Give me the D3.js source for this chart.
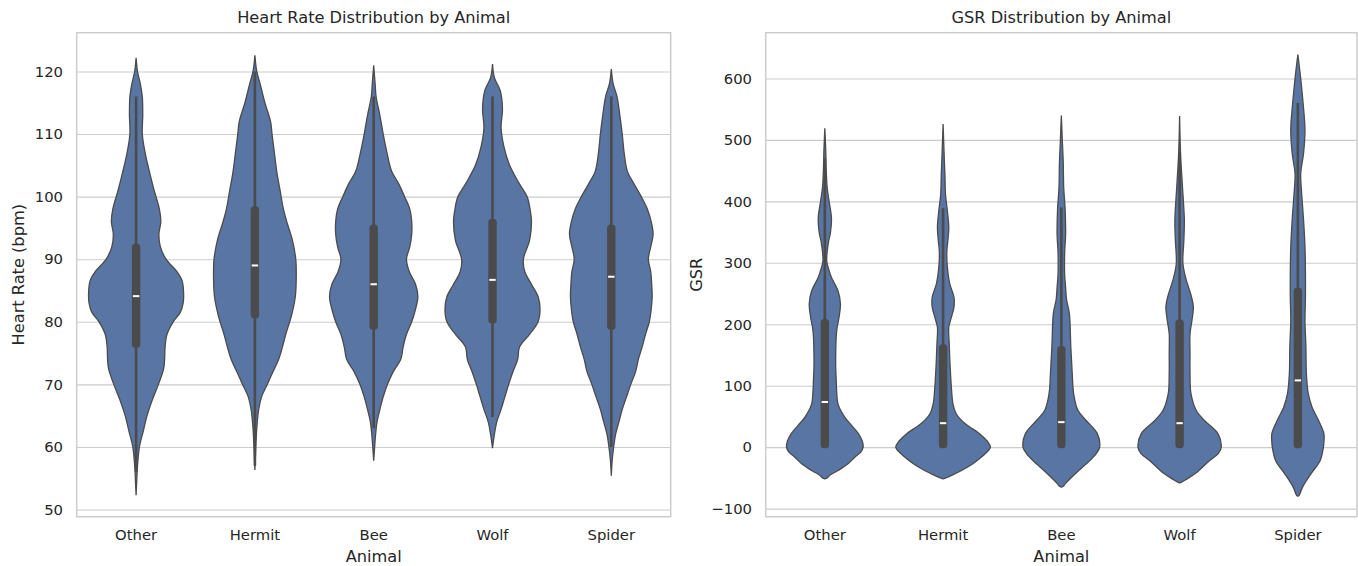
<!DOCTYPE html>
<html>
<head>
<meta charset="utf-8">
<script src="https://cdnjs.cloudflare.com/ajax/libs/d3/7.8.5/d3.min.js"></script>
<style>
    body { margin: 0; background: #fff; }
    svg text { font-family: 'DejaVu Sans', sans-serif; fill: #262626; }
</style>
</head>
<body>
<div id="root"></div>
<script>
    const animals = ['Other', 'Hermit', 'Bee', 'Wolf', 'Spider']
    const hrTicks = [50, 60, 70, 80, 90, 100, 110, 120]
    const gsrTicks = [-100, 0, 100, 200, 300, 400, 500, 600]

    // violin outlines: [value, relative density]
    const hrOther = [[122.2,0],[120,.03],[118,.09],[116,.13],[113,.14],[110,.13],[107,.19],[104,.28],[101,.38],[98,.49],[96,.52],[94,.48],[92,.51],[90,.63],[88,.86],[86.5,.97],[84.5,1],[83,.99],[81.5,.93],[80,.78],[78,.65],[76,.61],[74,.6],[72.5,.58],[70,.47],[67.5,.34],[65,.23],[62.5,.15],[60,.07],[57,.03],[54,.01],[52.3,0]]
    const hrHermit = [[122.6,0],[120,.04],[118,.11],[115,.21],[112,.33],[110,.36],[107,.41],[104,.46],[101,.53],[98,.6],[96,.67],[93,.79],[90,.86],[87,.87],[84,.85],[81,.77],[78,.65],[76,.58],[74,.5],[72,.38],[70,.26],[68,.14],[66,.08],[63,.04],[60,.02],[56.3,0]]
    const hrBee = [[121,0],[118,.03],[116,.05],[113,.13],[110,.2],[107,.28],[104,.38],[102,.53],[100,.65],[98,.76],[96,.8],[94,.8],[92,.76],[90,.69],[88,.75],[86,.88],[84,.93],[82,.88],[80,.8],[78,.69],[76,.62],[74,.57],[72,.41],[70,.29],[68,.2],[66,.13],[64,.07],[62,.04],[60,.02],[57.8,0]]
    const hrWolf = [[121.2,0],[119,.04],[117,.16],[114,.21],[111,.18],[108,.24],[105,.36],[102,.57],[100,.73],[98,.79],[96,.82],[93,.78],[90,.65],[88,.68],[86,.82],[84,.96],[82,1],[80,.96],[78,.78],[76,.57],[74,.53],[72,.43],[70,.34],[68,.26],[66,.18],[64,.09],[62,.04],[59.8,0]]
    const hrSpider = [[120.4,0],[118,.04],[116,.12],[113,.18],[110,.23],[107,.27],[104,.34],[102,.48],[100,.63],[98,.76],[96,.84],[94,.88],[92,.83],[90,.78],[88,.83],[86,.85],[84,.86],[82,.84],[80,.8],[78,.72],[76,.65],[74,.57],[72,.51],[70,.41],[68,.32],[66,.23],[64,.16],[62,.09],[60,.05],[58,.02],[55.4,0]]

    const hrQ1 = [76, 80.7, 78.9, 79.9, 78.9]
    const hrMedian = [84.1, 89, 86, 86.7, 87.2]
    const hrQ3 = [92.3, 98.3, 95.4, 96.3, 95.4]
    const hrWhiskLow = [56, 57, 63, 64.8, 60]
    const hrWhiskHigh = [116, 120, 116, 116, 116]

    const gsrOther = [[519,0],[481,.02],[450,.03],[422,.05],[400,.09],[373,.14],[350,.12],[335,.08],[318,.05],[303,.04],[290,.08],[276,.14],[254,.28],[233,.33],[211,.3],[195,.26],[179,.24],[150,.23],[130,.23],[110,.24],[92,.25],[70,.28],[49,.42],[35,.57],[22,.71],[10,.79],[0,.81],[-8,.76],[-16,.64],[-27,.49],[-38,.28],[-46,.1],[-50,.05],[-51.5,0]]
    const gsrHermit = [[526,0],[481,.02],[440,.04],[412,.05],[385,.09],[358,.12],[335,.1],[320,.08],[293,.09],[266,.14],[244,.23],[228,.23],[210,.17],[195,.12],[168,.13],[130,.15],[92,.18],[70,.21],[54,.28],[38,.47],[22,.77],[10,.93],[0,1],[-10,.9],[-20,.75],[-27,.63],[-38,.39],[-46,.18],[-50,.06],[-51.5,0]]
    const gsrBee = [[539.6,0],[500,.02],[463,.04],[422,.05],[387,.08],[346,.09],[317,.07],[281,.07],[260,.09],[240,.11],[217,.17],[163,.2],[120,.23],[87,.26],[60,.35],[43,.53],[22,.76],[0,.81],[-10,.74],[-22,.6],[-43,.3],[-59,.09],[-63.5,.04],[-65,0]]
    const gsrWolf = [[539,0],[478,.02],[424,.06],[370,.1],[337,.09],[299,.07],[275,.13],[260,.19],[245,.25],[228,.29],[206,.26],[184.5,.22],[152,.22],[119.5,.22],[87,.24],[60,.35],[43,.53],[22,.81],[0,.88],[-10,.82],[-22,.63],[-43,.33],[-53,.13],[-56.5,.05],[-58,0]]
    const gsrSpider = [[639,0],[600,.06],[560,.11],[516,.15],[478,.12],[445,.06],[413,.08],[370,.12],[326,.15],[282,.16],[244,.16],[206,.15],[163,.17],[119.5,.18],[87,.22],[65,.3],[43,.44],[22,.55],[8,.55],[0,.54],[-22,.47],[-43,.28],[-65,.1],[-78,.03],[-80,0]]

    const gsrQ1 = [0, 0, 0, 0, 0]
    const gsrMedian = [73.5, 39, 40.7, 39, 108.6]
    const gsrQ3 = [207, 166, 162.8, 206, 257.8]
    const gsrWhiskLow = [0, 0, 0, 0, 0]
    const gsrWhiskHigh = [470, 389, 390, 480, 560]

    const W = 1358, H = 566
    const plotTop = 32.7, plotBottom = 516.7
    const fillColor = '#5875a4', lineColor = '#4b4b4b', gridColor = '#cccccc'

    const svg = d3.select('#root').append('svg').attr('width', W).attr('height', H)

    function drawPanel(opt) {
        const g = svg.append('g')
        const x = d3.scaleBand().domain(animals).range([opt.left, opt.right])
        const y = d3.scaleLinear().domain(opt.domain).range([plotBottom, plotTop])
        const w = d3.scaleLinear().domain([0, 1]).range([0, x.bandwidth() * 0.4])

        // grid
        g.append('g')
            .attr('transform', `translate(${opt.left},0)`)
            .call(d3.axisLeft(y).tickValues(opt.ticks).tickSize(-(opt.right - opt.left)).tickFormat(''))
            .call(a => a.select('.domain').remove())
            .call(a => a.selectAll('line').attr('stroke', gridColor).attr('stroke-width', 1.1))

        opt.profiles.forEach((prof, i) => {
            const cx = x(animals[i]) + x.bandwidth() / 2
            const area = d3.area()
                .curve(d3.curveCatmullRom)
                .y(d => y(d[0]))
                .x0(d => cx - w(d[1]))
                .x1(d => cx + w(d[1]))
            g.append('path')
                .attr('d', area(prof))
                .attr('fill', fillColor)
                .attr('stroke', lineColor)
                .attr('stroke-width', 1.3)
            // whisker
            g.append('line')
                .attr('x1', cx).attr('x2', cx)
                .attr('y1', y(opt.whiskLow[i])).attr('y2', y(opt.whiskHigh[i]))
                .attr('stroke', lineColor).attr('stroke-width', 2.6)
            // box
            const bw = 8.4
            g.append('rect')
                .attr('x', cx - bw / 2).attr('width', bw)
                .attr('y', y(opt.q3[i]) - 1).attr('height', y(opt.q1[i]) - y(opt.q3[i]) + 2)
                .attr('rx', 3.5)
                .attr('fill', lineColor)
            // median
            g.append('line')
                .attr('x1', cx - 3.2).attr('x2', cx + 3.2)
                .attr('y1', y(opt.median[i])).attr('y2', y(opt.median[i]))
                .attr('stroke', '#ffffff').attr('stroke-width', 2)
        })

        // frame
        g.append('rect')
            .attr('x', opt.left).attr('y', plotTop)
            .attr('width', opt.right - opt.left).attr('height', plotBottom - plotTop)
            .attr('fill', 'none').attr('stroke', gridColor).attr('stroke-width', 1.5)

        // tick labels
        g.append('g')
            .attr('transform', `translate(${opt.left},0)`)
            .call(d3.axisLeft(y).tickValues(opt.ticks).tickSize(0).tickPadding(13.7))
            .call(a => a.select('.domain').remove())
            .call(a => a.selectAll('text').style('font-size', '14.8px').attr('fill', '#262626'))
        g.append('g')
            .attr('transform', `translate(0,${plotBottom})`)
            .call(d3.axisBottom(x).tickSize(0).tickPadding(12.5))
            .call(a => a.select('.domain').remove())
            .call(a => a.selectAll('text').style('font-size', '14.8px').attr('fill', '#262626'))

        const mid = (opt.left + opt.right) / 2
        g.append('text').attr('x', mid).attr('y', 23)
            .attr('text-anchor', 'middle').style('font-size', '16.2px').text(opt.title)
        g.append('text').attr('x', mid).attr('y', 562)
            .attr('text-anchor', 'middle').style('font-size', '16.2px').text('Animal')
        g.append('text')
            .attr('transform', `translate(${opt.ylabelX},${(plotTop + plotBottom) / 2}) rotate(-90)`)
            .attr('text-anchor', 'middle').style('font-size', '16.2px').text(opt.ylabel)
    }

    drawPanel({
        left: 76.7, right: 670.7, domain: [48.85, 126.2], ticks: hrTicks,
        profiles: [hrOther, hrHermit, hrBee, hrWolf, hrSpider],
        q1: hrQ1, median: hrMedian, q3: hrQ3, whiskLow: hrWhiskLow, whiskHigh: hrWhiskHigh,
        title: 'Heart Rate Distribution by Animal', ylabel: 'Heart Rate (bpm)', ylabelX: 24
    })
    drawPanel({
        left: 765.7, right: 1357, domain: [-113.2, 674.5], ticks: gsrTicks,
        profiles: [gsrOther, gsrHermit, gsrBee, gsrWolf, gsrSpider],
        q1: gsrQ1, median: gsrMedian, q3: gsrQ3, whiskLow: gsrWhiskLow, whiskHigh: gsrWhiskHigh,
        title: 'GSR Distribution by Animal', ylabel: 'GSR', ylabelX: 702
    })
</script>
</body>
</html>
